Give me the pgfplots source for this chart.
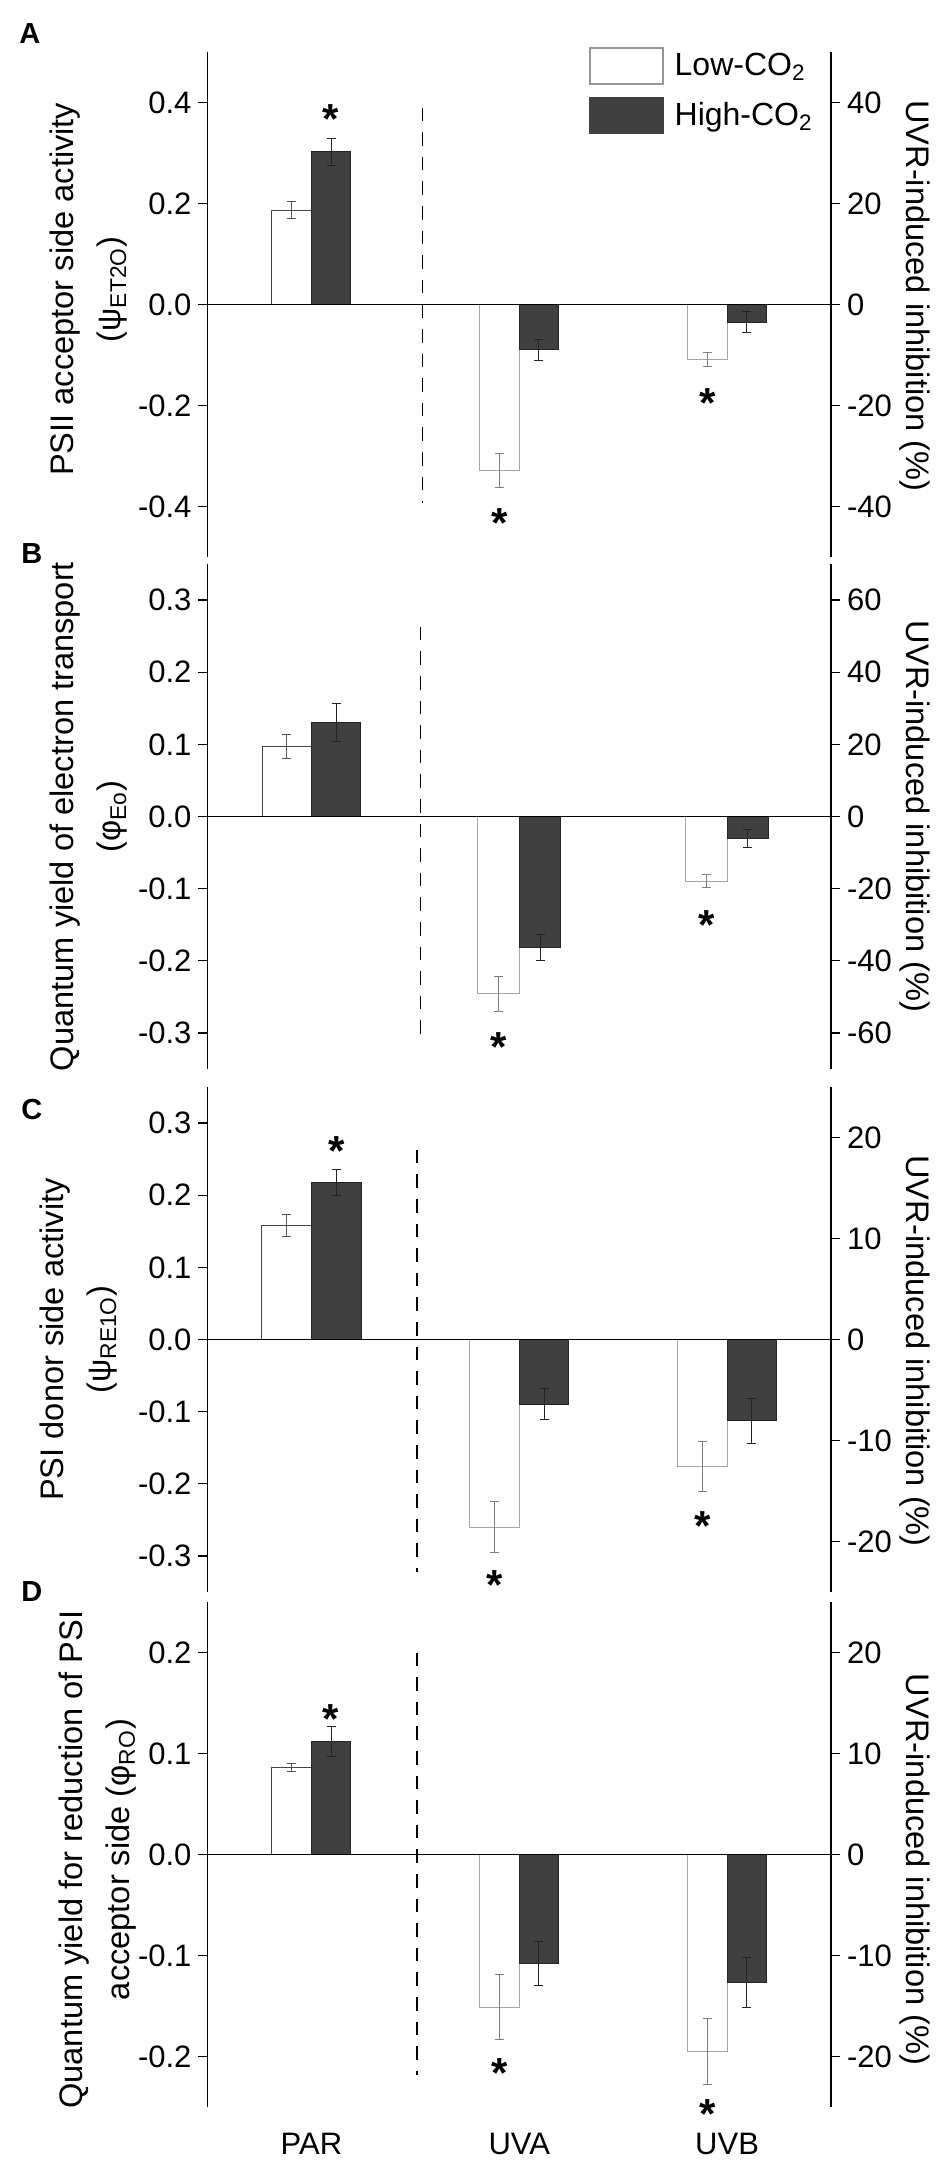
\documentclass[border=0pt]{standalone}
\usepackage{fontspec}
\setmainfont{Liberation Sans}
\usepackage{pgfplots}
\pgfplotsset{compat=1.18}
\definecolor{hifill}{RGB}{64,64,64}
\definecolor{hiedge}{RGB}{36,36,36}
\definecolor{loedgeP}{RGB}{70,70,70}
\definecolor{loedgeU}{RGB}{165,165,165}
\definecolor{errloP}{RGB}{85,85,85}
\definecolor{errloU}{RGB}{125,125,125}
\definecolor{errhi}{RGB}{35,35,35}
\definecolor{legedge}{RGB}{150,150,150}
\tikzset{ast/.style={anchor=north, inner sep=0pt, font=\bfseries\fontsize{21}{21}\selectfont}}
\newcommand{\sig}{\raisebox{-0.42em}[0.30em][0pt]{*}}
\pgfplotsset{
  panel/.style={
    scale only axis, width=311.75pt, height=252.5pt, anchor=north west,
    xmin=-0.5, xmax=2.5,
    axis y line*=left, axis x line*=bottom,
    x axis line style={draw=none},
    y axis line style={black, line width=0.65pt},
    xtick=\empty,
    tick align=outside, major tick length=4.5pt,
    tick style={black, line width=0.65pt},
    tick label style={font=\fontsize{15.5}{15.5}\selectfont},
    ylabel style={font=\fontsize{16.3}{23.5}\selectfont, align=center, anchor=center},
    clip=false,
  },
  rpanel/.style={
    scale only axis, width=311.75pt, height=252.5pt, anchor=north west,
    xmin=-0.5, xmax=2.5,
    axis y line*=right, axis x line=none,
    y axis line style={black, line width=0.65pt},
    tick align=outside, major tick length=4.5pt,
    tick style={black, line width=0.65pt},
    tick label style={font=\fontsize{15.5}{15.5}\selectfont},
    ylabel style={font=\fontsize{16.3}{16.3}\selectfont, rotate=180, anchor=center},
  },
  lowP/.style={ybar, bar shift=0pt, forget plot, fill=white, draw=loedgeP, line width=0.5pt,
    error bars/y dir=both, error bars/y explicit,
    error bars/error bar style={errloP, line width=0.5pt},
    error bars/error mark options={rotate=90, errloP, mark size=2.25pt, line width=0.5pt}},
  lowU/.style={ybar, bar shift=0pt, forget plot, fill=white, draw=loedgeU, line width=0.5pt,
    error bars/y dir=both, error bars/y explicit,
    error bars/error bar style={errloU, line width=0.5pt},
    error bars/error mark options={rotate=90, errloU, mark size=2.25pt, line width=0.5pt}},
  high/.style={ybar, bar shift=0pt, forget plot, fill=hifill, draw=hiedge, line width=0.5pt,
    error bars/y dir=both, error bars/y explicit,
    error bars/error bar style={errhi, line width=0.5pt},
    error bars/error mark options={rotate=90, errhi, mark size=2.25pt, line width=0.5pt}},
  zeroline/.style={forget plot, black, line width=0.85pt, mark=none},
  divider/.style={forget plot, black, line width=0.75pt, mark=none, dash pattern=on 6.8pt off 5.5pt},
}
\begin{document}
\begin{tikzpicture}
\path[use as bounding box] (0,0) rectangle (473pt,-1083.5pt);

% ---------------- Panel A ----------------
\begin{axis}[panel, at={(103.75pt,-26pt)},
  ymin=-0.5, ymax=0.5,
  ytick={-0.4,-0.2,0,0.2,0.4}, yticklabels={-0.4,-0.2,0.0,0.2,0.4},
  ylabel={PSII acceptor side activity\\(ψ\textsubscript{ET2O})},
  ylabel style={at={(axis description cs:-0.19,0.53)}},
  legend style={at={(axis description cs:0.612,1.0099)}, anchor=north west,
    draw=none, fill=none, inner sep=0pt, row sep=6pt, column sep=5.5pt,
    font=\fontsize{16}{16}\selectfont, nodes={inner sep=0pt}},
  legend cell align=left]
\addplot[lowP, bar width=0.19] coordinates {(-0.095,0.187) +- (0,0.016)};
\addplot[lowU, bar width=0.19] coordinates {(0.905,-0.329) +- (0,0.034) (1.905,-0.109) +- (0,0.014)};
\addplot[high, bar width=0.19] coordinates {(0.095,0.302) +- (0,0.027) (1.095,-0.090) +- (0,0.021) (2.095,-0.035) +- (0,0.021)};
\addplot[zeroline] coordinates {(-0.5,0) (2.5,0)};
\addplot[divider] coordinates {(0.535,0.39) (0.535,-0.394)};
\node[ast] at (axis cs:0.095,0.400) {\sig};
\node[ast] at (axis cs:0.905,-0.401) {\sig};
\node[ast] at (axis cs:1.905,-0.164) {\sig};
\addlegendimage{legend image code/.code={\draw[fill=white,draw=legedge,line width=0.6pt] (0pt,-9pt) rectangle (36.5pt,9pt);}}
\addlegendentry{Low-CO\textsubscript{2}}
\addlegendimage{legend image code/.code={\draw[fill=hifill,draw=hifill,line width=0.6pt] (0pt,-9pt) rectangle (36.5pt,9pt);}}
\addlegendentry{High-CO\textsubscript{2}}
\end{axis}
\begin{axis}[rpanel, at={(103.75pt,-26pt)},
  ymin=-50, ymax=50,
  ytick={-40,-20,0,20,40}, yticklabels={-40,-20,0,20,40},
  ylabel={UVR-induced inhibition (\%)},
  ylabel style={at={(axis description cs:1.134,0.517)}}]
\end{axis}

% ---------------- Panel B ----------------
\begin{axis}[panel, at={(103.75pt,-282pt)},
  ymin=-0.35, ymax=0.35,
  ytick={-0.3,-0.2,-0.1,0,0.1,0.2,0.3}, yticklabels={-0.3,-0.2,-0.1,0.0,0.1,0.2,0.3},
  ylabel={Quantum yield of electron transport\\(φ\textsubscript{Eo})},
  ylabel style={at={(axis description cs:-0.19,0.5)}}]
\addplot[lowP, bar width=0.236] coordinates {(-0.118,0.0975) +- (0,0.0165)};
\addplot[lowU, bar width=0.2] coordinates {(0.9,-0.246) +- (0,0.024) (1.9,-0.0896) +- (0,0.0094)};
\addplot[high, bar width=0.238] coordinates {(0.119,0.130) +- (0,0.026)};
\addplot[high, bar width=0.2] coordinates {(1.1,-0.181) +- (0,0.018) (2.1,-0.030) +- (0,0.0125)};
\addplot[zeroline] coordinates {(-0.5,0) (2.5,0)};
\addplot[divider] coordinates {(0.524,0.263) (0.524,-0.3116)};
\node[ast] at (axis cs:0.9,-0.297) {\sig};
\node[ast] at (axis cs:1.9,-0.1285) {\sig};
\end{axis}
\begin{axis}[rpanel, at={(103.75pt,-282pt)},
  ymin=-70, ymax=70,
  ytick={-60,-40,-20,0,20,40,60}, yticklabels={-60,-40,-20,0,20,40,60},
  ylabel={UVR-induced inhibition (\%)},
  ylabel style={at={(axis description cs:1.134,0.5)}}]
\end{axis}

% ---------------- Panel C ----------------
\begin{axis}[panel, at={(103.75pt,-543.5pt)},
  ymin=-0.35, ymax=0.35,
  ytick={-0.3,-0.2,-0.1,0,0.1,0.2,0.3}, yticklabels={-0.3,-0.2,-0.1,0.0,0.1,0.2,0.3},
  ylabel={PSI donor side activity\\(ψ\textsubscript{RE1O})},
  ylabel style={at={(axis description cs:-0.206,0.5)}}]
\addplot[lowP, bar width=0.239] coordinates {(-0.1195,0.158) +- (0,0.0155)};
\addplot[lowU, bar width=0.239] coordinates {(0.8805,-0.26) +- (0,0.035) (1.8805,-0.176) +- (0,0.035)};
\addplot[high, bar width=0.239] coordinates {(0.1195,0.2177) +- (0,0.018) (1.1195,-0.090) +- (0,0.0215) (2.1195,-0.1125) +- (0,0.031)};
\addplot[zeroline] coordinates {(-0.5,0) (2.5,0)};
\addplot[divider] coordinates {(0.509,0.263) (0.509,-0.322)};
\node[ast] at (axis cs:0.1195,0.283) {\sig};
\node[ast] at (axis cs:0.8805,-0.318) {\sig};
\node[ast] at (axis cs:1.8805,-0.236) {\sig};
\end{axis}
\begin{axis}[rpanel, at={(103.75pt,-543.5pt)},
  ymin=-25, ymax=25,
  ytick={-20,-10,0,10,20}, yticklabels={-20,-10,0,10,20},
  ylabel={UVR-induced inhibition (\%)},
  ylabel style={at={(axis description cs:1.134,0.477)}}]
\end{axis}

% ---------------- Panel D ----------------
\begin{axis}[panel, at={(103.75pt,-801pt)},
  ymin=-0.25, ymax=0.25,
  ytick={-0.2,-0.1,0,0.1,0.2}, yticklabels={-0.2,-0.1,0.0,0.1,0.2},
  xtick={0,1,2}, xticklabels={PAR,UVA,UVB},
  xtick style={draw=none},
  xticklabel style={inner sep=0pt, anchor=north, yshift=-8.5pt},
  ylabel={Quantum yield for reduction of PSI\\acceptor side (φ\textsubscript{RO})},
  ylabel style={at={(axis description cs:-0.176,0.49)}}]
\addplot[lowP, bar width=0.19] coordinates {(-0.095,0.0866) +- (0,0.004)};
\addplot[lowU, bar width=0.19] coordinates {(0.905,-0.151) +- (0,0.032) (1.905,-0.195) +- (0,0.033)};
\addplot[high, bar width=0.19] coordinates {(0.095,0.1118) +- (0,0.0148) (1.095,-0.108) +- (0,0.022) (2.095,-0.1265) +- (0,0.0245)};
\addplot[zeroline] coordinates {(-0.5,0) (2.5,0)};
\addplot[divider] coordinates {(0.508,0.2) (0.508,-0.218)};
\node[ast] at (axis cs:0.095,0.150) {\sig};
\node[ast] at (axis cs:0.905,-0.2005) {\sig};
\node[ast] at (axis cs:1.905,-0.241) {\sig};
\end{axis}
\begin{axis}[rpanel, at={(103.75pt,-801pt)},
  ymin=-25, ymax=25,
  ytick={-20,-10,0,10,20}, yticklabels={-20,-10,0,10,20},
  ylabel={UVR-induced inhibition (\%)},
  ylabel style={at={(axis description cs:1.134,0.47)}}]
\end{axis}

% panel letters
\node[anchor=base west, inner sep=0pt, font=\bfseries\fontsize{14.5}{14.5}\selectfont] at (9.5pt,-22pt) {A};
\node[anchor=base west, inner sep=0pt, font=\bfseries\fontsize{14.5}{14.5}\selectfont] at (10.5pt,-281.5pt) {B};
\node[anchor=base west, inner sep=0pt, font=\bfseries\fontsize{14.5}{14.5}\selectfont] at (10.5pt,-559.5pt) {C};
\node[anchor=base west, inner sep=0pt, font=\bfseries\fontsize{14.5}{14.5}\selectfont] at (10.5pt,-800.5pt) {D};
\end{tikzpicture}
\end{document}
